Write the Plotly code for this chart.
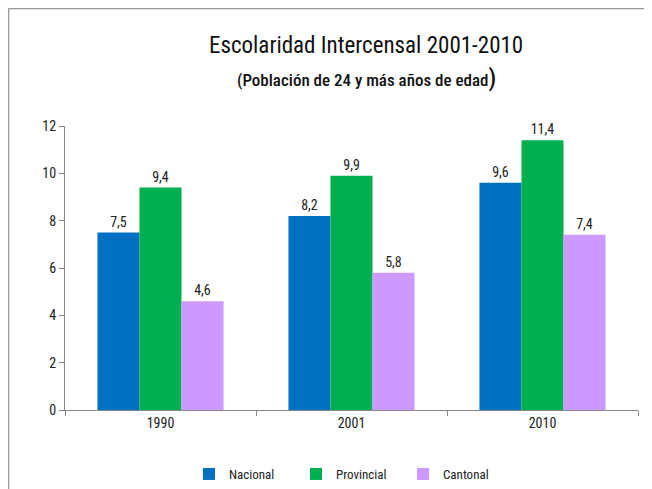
import plotly.graph_objects as go

# Datos
years = ["1990", "2001", "2010"]
nacional = [7.5, 8.2, 9.6]
provincial = [9.4, 9.9, 11.4]
cantonal = [4.6, 5.8, 7.4]

FONT = "Roboto Condensed, Liberation Sans Narrow, sans-serif"

fig = go.Figure()
for name, vals, color in [("Nacional", nacional, "#0070C0"),
                          ("Provincial", provincial, "#00B050"),
                          ("Cantonal", cantonal, "#CC99FF")]:
    fig.add_bar(x=years, y=vals, name=name, marker_color=color,
                marker_line_width=0,
                texttemplate="%{y:.1f}", textposition="outside",
                textfont=dict(size=14, color="#222"), cliponaxis=False)

# the page body has an 8px margin: work in screen pixels (figure coords = screen coords - 8)
OFF = 8
W, H = 652 - OFF, 489 - OFF
L, R, T, B = 65 - OFF, W - (638 - OFF), 126 - OFF, H - (410 - OFF)
pw, ph = W - L - R, H - T - B

def px2paper(x, y):
    # screen pixel -> paper fraction
    return (x - OFF - L) / pw, (H - B - (y - OFF)) / ph

left_x, top_y = px2paper(8.5, 8.5)
right_x, bottom_y = px2paper(700, 560)

fig.update_layout(
    width=W, height=H,
    margin=dict(l=L, r=R, t=T, b=B, autoexpand=False),
    paper_bgcolor="white", plot_bgcolor="white",
    font=dict(family=FONT, size=14, color="#222"),
    separators=",.",
    barmode="group", bargap=0.34, bargroupgap=0,
    showlegend=True,
    legend=dict(orientation="h", xref="container", yref="container",
                x=(209 - OFF - 20) / W, xanchor="left", y=1 - (474 - OFF) / H, yanchor="middle",
                font=dict(size=13), entrywidth=62, entrywidthmode="pixels",
                itemwidth=30, traceorder="normal"),
    shapes=[
        dict(type="line", xref="paper", yref="paper", x0=left_x, x1=right_x, y0=top_y, y1=top_y,
             line=dict(color="#999", width=1.5), layer="below"),
        dict(type="line", xref="paper", yref="paper", x0=left_x, x1=left_x, y0=top_y, y1=bottom_y,
             line=dict(color="#999", width=1.5), layer="below"),
    ],
    annotations=[
        dict(text="Escolaridad Intercensal 2001-2010", xref="paper", yref="paper",
             x=px2paper(366, 0)[0], y=px2paper(0, 45)[1], showarrow=False,
             xanchor="center", yanchor="middle", font=dict(size=23, color="#111")),
        dict(text="(Población de 24 y más años de edad<span style='font-size:24px'>)</span>",
             xref="paper", yref="paper",
             x=px2paper(366, 0)[0], y=px2paper(0, 78)[1], showarrow=False,
             xanchor="center", yanchor="middle",
             font=dict(size=17, color="#111", weight=500)),
    ],
)
fig.update_xaxes(showline=True, linecolor="#888", linewidth=1, ticks="outside",
                 tickson="boundaries", ticklen=5, tickcolor="#888",
                 tickfont=dict(size=14), showgrid=False)
fig.update_yaxes(range=[0, 12], dtick=2, showline=True, linecolor="#888", linewidth=1,
                 ticks="outside", ticklen=5, tickcolor="#888", showgrid=False,
                 zeroline=False, tickfont=dict(size=14))

# hide scrollbars caused by the body margin
fig.write_html("out.html",
               post_script="document.documentElement.style.overflow='hidden';"
                           "document.body.style.overflow='hidden';")
